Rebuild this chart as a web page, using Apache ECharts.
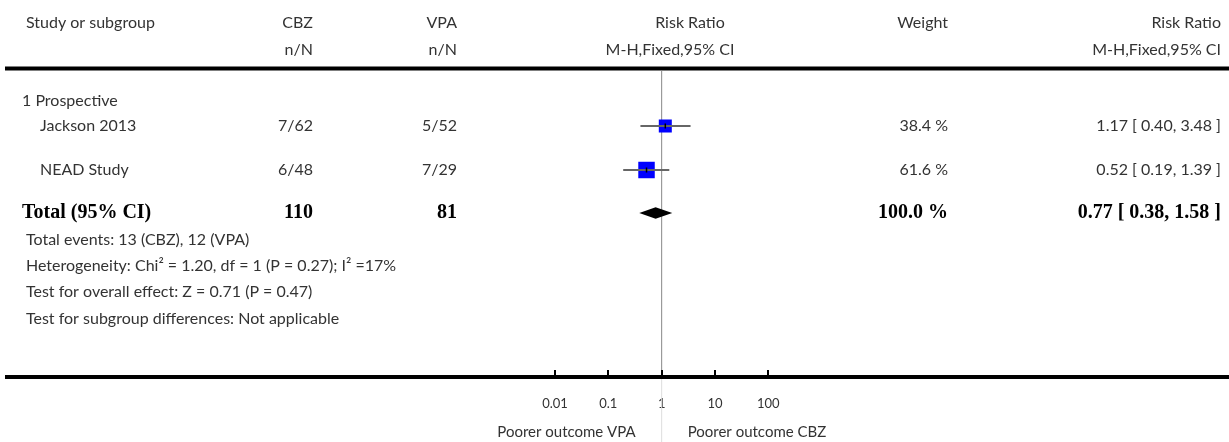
<!DOCTYPE html>
<html>
<head>
<meta charset="utf-8">
<style>
  html, body { margin: 0; padding: 0; background: #fff; }
  #chart { width: 1229px; height: 442px; }
</style>
<script src="https://cdn.jsdelivr.net/npm/echarts@6/dist/echarts.min.js"></script>
</head>
<body>
<div id="chart"></div>
<script>
// Forest plot: CBZ vs VPA, risk ratio (M-H, fixed effect, 95% CI)
const subgroupName = '1 Prospective';
const studies = ['Jackson 2013', 'NEAD Study'];
const cbzEvents = [7, 6];
const cbzTotals = [62, 48];
const vpaEvents = [5, 7];
const vpaTotals = [52, 29];
const riskRatio = [1.17, 0.52];
const ciLow = [0.40, 0.19];
const ciHigh = [3.48, 1.39];
const weights = [38.4, 61.6];

const pooledRR = 0.77;
const pooledLow = 0.38;
const pooledHigh = 1.58;
const pooledCbzTotal = 110;
const pooledVpaTotal = 81;
const pooledCbzEvents = 13;
const pooledVpaEvents = 12;

const footNotes = [
  'Total events: ' + pooledCbzEvents + ' (CBZ), ' + pooledVpaEvents + ' (VPA)',
  'Heterogeneity: Chi\u00B2 = 1.20, df = 1 (P = 0.27); I\u00B2 =17%',
  'Test for overall effect: Z = 0.71 (P = 0.47)',
  'Test for subgroup differences: Not applicable'
];
const tickValues = [0.01, 0.1, 1, 10, 100];
const tickLabels = ['0.01', '0.1', '1', '10', '100'];

// ---- layout (pixel rows of the table) ----
const ROW_HEAD1 = 23, ROW_HEAD2 = 50;
const ROW_SUB = 101;
const ROW_STUDY = [126, 170];
const ROW_TOTAL = 213;
const ROW_NOTES = [240, 266, 292, 319];
const RULE_TOP = 68.5, AXIS_Y = 377;
const COL_STUDY = 26, COL_CBZ = 313, COL_VPA = 457, COL_W = 948, COL_RR = 1221;

const FAMILY = 'Lato, "Open Sans", sans-serif';
const FONT = '16px ' + FAMILY;
const BOLD = 'bold 20px "Liberation Serif", "DejaVu Serif", serif';
const TXT = '#333';

function label(text, x, y, align, font, color) {
  return {
    type: 'text', silent: true, z: 10,
    style: { text: text, x: x, y: y, textAlign: align || 'left', textVerticalAlign: 'middle',
             font: font || FONT, fill: color || TXT }
  };
}
const fmt2 = v => v.toFixed(2);

const graphics = [];
// header
graphics.push(label('Study or subgroup', COL_STUDY, ROW_HEAD1));
graphics.push(label('CBZ', COL_CBZ, ROW_HEAD1, 'right'));
graphics.push(label('n/N', COL_CBZ, ROW_HEAD2, 'right'));
graphics.push(label('VPA', COL_VPA, ROW_HEAD1, 'right'));
graphics.push(label('n/N', COL_VPA, ROW_HEAD2, 'right'));
graphics.push(label('Risk Ratio', 690, ROW_HEAD1, 'center'));
graphics.push(label('M-H,Fixed,95% CI', 670, ROW_HEAD2, 'center'));
graphics.push(label('Weight', COL_W, ROW_HEAD1, 'right'));
graphics.push(label('Risk Ratio', COL_RR, ROW_HEAD1, 'right'));
graphics.push(label('M-H,Fixed,95% CI', COL_RR, ROW_HEAD2, 'right'));
// rules
graphics.push({ type: 'line', silent: true, shape: { x1: 5, y1: RULE_TOP, x2: 1229, y2: RULE_TOP },
                style: { stroke: '#000', lineWidth: 4 } });
graphics.push({ type: 'line', silent: true, z: 5, shape: { x1: 5, y1: AXIS_Y, x2: 1229, y2: AXIS_Y },
                style: { stroke: '#000', lineWidth: 4 } });
// subgroup and studies
graphics.push(label(subgroupName, 22, ROW_SUB));
studies.forEach((s, i) => {
  const y = ROW_STUDY[i];
  graphics.push(label(s, 40, y));
  graphics.push(label(cbzEvents[i] + '/' + cbzTotals[i], COL_CBZ, y, 'right'));
  graphics.push(label(vpaEvents[i] + '/' + vpaTotals[i], COL_VPA, y, 'right'));
  graphics.push(label(weights[i].toFixed(1) + ' %', COL_W, y, 'right'));
  graphics.push(label(fmt2(riskRatio[i]) + ' [ ' + fmt2(ciLow[i]) + ', ' + fmt2(ciHigh[i]) + ' ]', COL_RR, y, 'right'));
});
// total row
const totalWeight = weights.reduce((a, b) => a + b, 0);
graphics.push(label('Total (95% CI)', 22, ROW_TOTAL, 'left', BOLD, '#000'));
graphics.push(label(String(pooledCbzTotal), COL_CBZ, ROW_TOTAL, 'right', BOLD, '#000'));
graphics.push(label(String(pooledVpaTotal), COL_VPA, ROW_TOTAL, 'right', BOLD, '#000'));
graphics.push(label(totalWeight.toFixed(1) + ' %', COL_W, ROW_TOTAL, 'right', BOLD, '#000'));
graphics.push(label(fmt2(pooledRR) + ' [ ' + fmt2(pooledLow) + ', ' + fmt2(pooledHigh) + ' ]', COL_RR, ROW_TOTAL, 'right', BOLD, '#000'));
footNotes.forEach((t, i) => graphics.push(label(t, COL_STUDY, ROW_NOTES[i])));

const chart = echarts.init(document.getElementById('chart'), null, { renderer: 'canvas' });

const studyData = studies.map((s, i) => [riskRatio[i], ROW_STUDY[i], ciLow[i], ciHigh[i], weights[i]]);
const pooledData = [[pooledRR, ROW_TOTAL, pooledLow, pooledHigh]];

chart.setOption({
  animation: false,
  backgroundColor: '#fff',
  grid: { left: 555, width: 213.33, top: 0, bottom: 442 - AXIS_Y },
  xAxis: {
    type: 'log', logBase: 10, min: 0.01, max: 100,
    axisLine: { show: false },
    splitLine: { show: false },
    axisTick: { show: false },
    minorTick: { show: false },
    axisLabel: {
      margin: 20, fontSize: 13, color: TXT, fontFamily: FAMILY,
      formatter: v => {
        const k = tickValues.findIndex(t => Math.abs(Math.log10(t) - Math.log10(v)) < 1e-6);
        return k >= 0 ? tickLabels[k] : '';
      }
    }
  },
  yAxis: { type: 'value', min: 0, max: AXIS_Y, inverse: true, show: false },
  graphic: graphics,
  series: [
    {
      type: 'custom',
      data: studyData,
      z: 3,
      renderItem: (params, api) => {
        const y = api.value(1);
        const c = api.coord([api.value(0), y]);
        const l = api.coord([api.value(2), y]);
        const h = api.coord([api.value(3), y]);
        const side = 2.1 * Math.sqrt(api.value(4));
        return {
          type: 'group',
          children: [
            { type: 'rect', shape: { x: c[0] - side / 2, y: c[1] - side / 2, width: side, height: side },
              style: { fill: '#0000ff' } },
            { type: 'line', shape: { x1: l[0], y1: c[1], x2: h[0], y2: c[1] },
              style: { stroke: '#666', lineWidth: 2 } },
            { type: 'line', shape: { x1: c[0], y1: c[1] - 2.5, x2: c[0], y2: c[1] + 2.5 },
              style: { stroke: '#000', lineWidth: 1.5 } }
          ]
        };
      }
    },
    {
      type: 'custom',
      data: pooledData,
      z: 3,
      renderItem: (params, api) => {
        const y = api.value(1);
        const c = api.coord([api.value(0), y]);
        const l = api.coord([api.value(2), y]);
        const h = api.coord([api.value(3), y]);
        const hh = 5.7;
        return {
          type: 'polygon',
          shape: { points: [[l[0], c[1]], [c[0], c[1] - hh], [h[0], c[1]], [c[0], c[1] + hh]] },
          style: { fill: '#000' }
        };
      }
    }
  ]
});

// line of no effect at RR = 1, tick marks on the scale, and favour labels beneath the axis
const x1 = chart.convertToPixel({ xAxisIndex: 0 }, 1);
const tickMarks = tickValues.map(v => {
  const px = Math.round(chart.convertToPixel({ xAxisIndex: 0 }, v));
  return { type: 'line', silent: true, z: 6, shape: { x1: px, y1: AXIS_Y - 7, x2: px, y2: AXIS_Y },
           style: { stroke: '#000', lineWidth: 2 } };
});
chart.setOption({
  graphic: graphics.concat(tickMarks, [
    { type: 'line', silent: true, z: 1, shape: { x1: x1, y1: RULE_TOP + 2, x2: x1, y2: AXIS_Y },
      style: { stroke: '#888', lineWidth: 1 } },
    { type: 'line', silent: true, z: 1, shape: { x1: x1, y1: AXIS_Y, x2: x1, y2: 442 },
      style: { stroke: '#ddd', lineWidth: 1 } },
    label('Poorer outcome VPA', x1 - 26, 432, 'right', '15px ' + FAMILY),
    label('Poorer outcome CBZ', x1 + 26, 432, 'left', '15px ' + FAMILY)
  ])
});
</script>
</body>
</html>
